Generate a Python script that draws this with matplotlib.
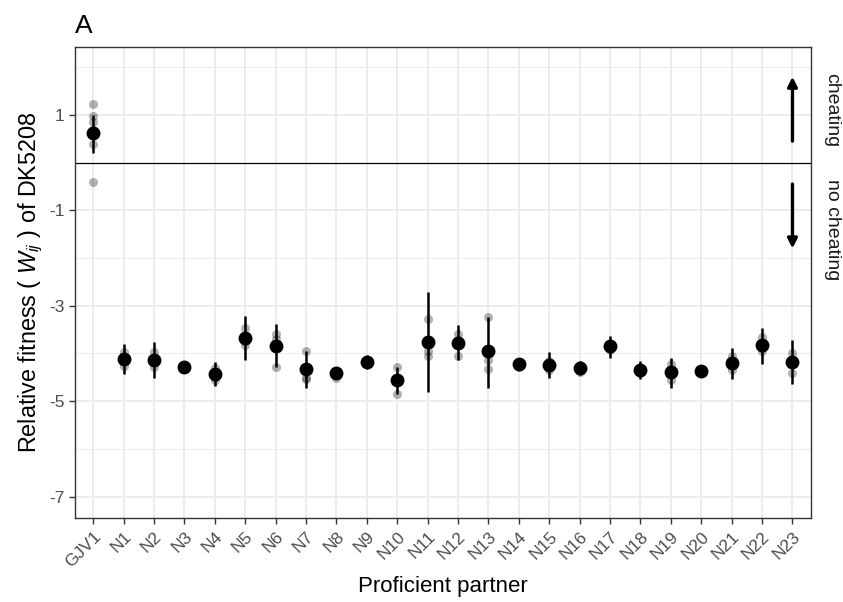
import matplotlib
matplotlib.use("Agg")
from matplotlib import pyplot as plt
import numpy as np

plt.rcParams['font.family'] = ['Liberation Sans', 'DejaVu Sans']
plt.rcParams['mathtext.fontset'] = 'custom'
plt.rcParams['mathtext.rm'] = 'Liberation Sans'
plt.rcParams['mathtext.it'] = 'Liberation Sans:italic'
plt.rcParams['axes.unicode_minus'] = False

# Data
partners = ["GJV1"] + [f"N{i}" for i in range(1, 24)]

mean_fit = [0.62, -4.12, -4.14, -4.29, -4.44, -3.67, -3.85, -4.33, -4.40, -4.18,
            -4.56, -3.76, -3.78, -3.95, -4.23, -4.25, -4.30, -3.85, -4.34, -4.39,
            -4.37, -4.20, -3.82, -4.17]
err_lo = [0.20, -4.44, -4.52, -4.33, -4.69, -4.13, -4.28, -4.73, -4.46, -4.32,
          -4.85, -4.81, -4.14, -4.72, -4.35, -4.52, -4.45, -4.10, -4.54, -4.72,
          -4.46, -4.54, -4.23, -4.65]
err_hi = [1.00, -3.81, -3.77, -4.25, -4.19, -3.22, -3.39, -3.95, -4.34, -4.04,
          -4.28, -2.72, -3.41, -3.23, -4.11, -3.98, -4.15, -3.63, -4.16, -4.09,
          -4.28, -3.89, -3.46, -3.72]

replicates = [
    [1.22, 0.98, 0.86, 0.40, -0.40, 0.68],
    [-3.98, -4.26, -4.15],
    [-3.96, -4.28, -4.18],
    [-4.28, -4.33, -4.31],
    [-4.31, -4.55, -4.50],
    [-3.47, -3.82, -3.75],
    [-3.60, -4.28, -3.70],
    [-3.95, -4.51, -4.53],
    [-4.38, -4.51, -4.37],
    [-4.15, -4.22, -4.20],
    [-4.28, -4.85, -4.58],
    [-3.28, -3.95, -4.05],
    [-3.60, -4.05, -3.72],
    [-3.23, -4.14, -4.32],
    [-4.20, -4.28, -4.24],
    [-4.15, -4.35, -4.28],
    [-4.25, -4.38, -4.30],
    [-3.80, -3.92, -3.86],
    [-4.30, -4.42, -4.33],
    [-4.23, -4.55, -4.42],
    [-4.35, -4.42, -4.37],
    [-4.05, -4.35, -4.23],
    [-3.65, -3.95, -3.88],
    [-4.00, -4.40, -4.15],
]

x = np.arange(len(partners))

fig = plt.figure(figsize=(8.43, 6.02), dpi=100)
ax = fig.add_axes([0.089, 0.1395, 0.8727, 0.783])

# replicate points
for i, reps in enumerate(replicates):
    ax.plot([i] * len(reps), reps, 'o', color='black', alpha=0.3, ms=6.5,
            mec='none', zorder=3)

# error bars + means
for i in range(len(partners)):
    ax.plot([i, i], [err_lo[i], err_hi[i]], color='black', lw=1.8, zorder=4,
            solid_capstyle='butt')
ax.plot(x, mean_fit, 'o', color='black', ms=9, zorder=5)

ax.axhline(0, color='black', lw=0.9, zorder=2)

# arrows
ax.annotate("", xy=(23, 1.8), xytext=(23, 0.45),
            arrowprops=dict(arrowstyle='-|>', color='black', lw=2.4,
                            mutation_scale=14, shrinkA=0, shrinkB=0))
ax.annotate("", xy=(23, -1.8), xytext=(23, -0.45),
            arrowprops=dict(arrowstyle='-|>', color='black', lw=2.4,
                            mutation_scale=14, shrinkA=0, shrinkB=0))

ax.set_xlim(-0.6, 23.6)
ax.set_ylim(-7.45, 2.43)
ax.set_xticks(x)
ax.set_xticklabels(partners, rotation=45, ha='right', va='top',
                   rotation_mode='anchor')
ax.set_yticks([1, -1, -3, -5, -7])
ax.set_yticks([2, 0, -2, -4, -6], minor=True)

ax.grid(True, which='major', color='#EBEBEB', lw=1.3)
ax.grid(True, which='minor', axis='y', color='#EBEBEB', lw=0.7)
ax.set_axisbelow(True)
for s in ax.spines.values():
    s.set_color('#333333')
    s.set_linewidth(1.0)

ax.tick_params(axis='both', which='major', colors='#333333', labelsize=12.5,
               length=4, width=1.0, labelcolor='#4D4D4D')
ax.tick_params(axis='y', which='minor', length=0)
ax.tick_params(axis='x', pad=4)

ax.set_xlabel("Proficient partner", fontsize=16, labelpad=4)
ax.set_ylabel("Relative fitness ( $W_{ij}$ ) of DK5208", fontsize=16.8, labelpad=3)

# strip-like labels on the right
trans = matplotlib.transforms.blended_transform_factory(ax.transAxes, ax.transData)
ax.text(1.029, 1.1, "cheating", rotation=-90, transform=trans, ha='center',
        va='center', fontsize=14, color='#1A1A1A')
ax.text(1.029, -1.4, "no cheating", rotation=-90, transform=trans, ha='center',
        va='center', fontsize=14, color='#1A1A1A')

fig.text(0.089, 0.945, "A", fontsize=19, ha='left', va='baseline')

fig.savefig("out.png", dpi=100)
